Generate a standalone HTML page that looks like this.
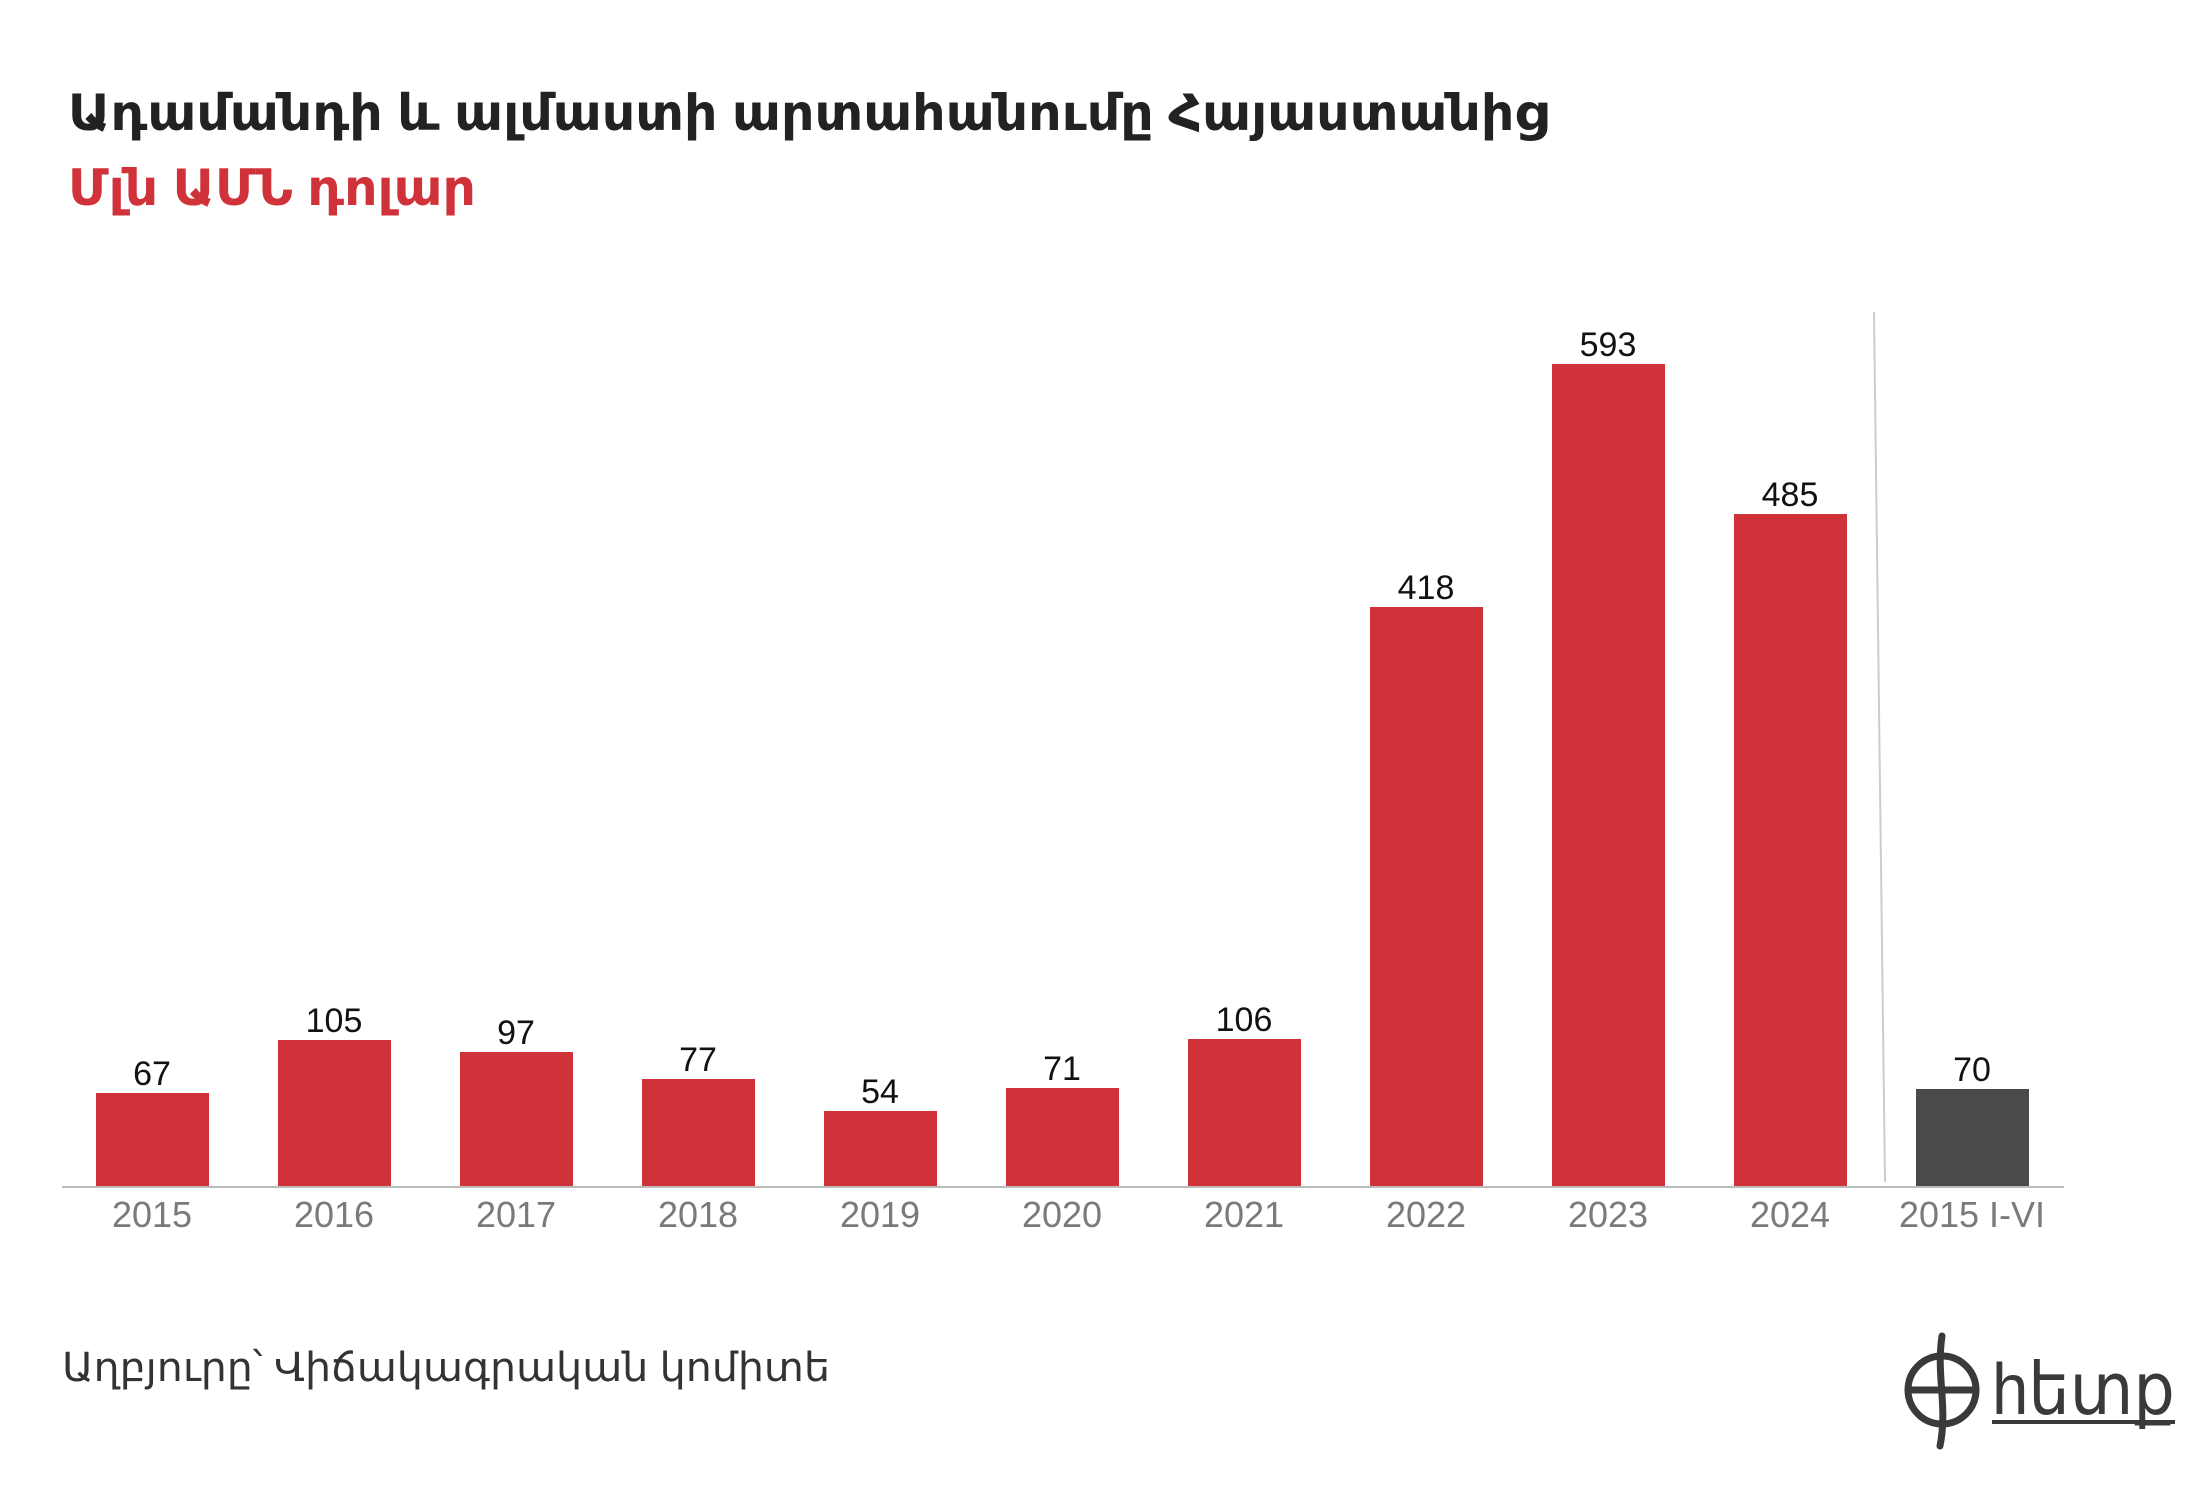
<!DOCTYPE html>
<html><head><meta charset="utf-8"><style>
html,body{margin:0;padding:0;background:#fff;}
svg{display:block;}
text{font-family:"Liberation Sans","DejaVu Sans",sans-serif;}
</style></head><body>
<svg width="2206" height="1510" viewBox="0 0 2206 1510" xmlns="http://www.w3.org/2000/svg">
<rect width="2206" height="1510" fill="#fff"/>
<text x="68" y="130" font-size="50" font-weight="bold" fill="#222" textLength="1480" lengthAdjust="spacingAndGlyphs">Ադամանդի և ալմաստի արտահանումը Հայաստանից</text>
<text x="68" y="205" font-size="50" font-weight="bold" fill="#d0323a" textLength="408" lengthAdjust="spacingAndGlyphs">Մլն ԱՄՆ դոլար</text>

<line x1="1874" y1="312" x2="1885" y2="1182" stroke="#ccc" stroke-width="2"/>
<g fill="#d0323a">
<rect x="96" y="1093" width="113" height="93"/>
<rect x="278" y="1040" width="113" height="146"/>
<rect x="460" y="1052" width="113" height="134"/>
<rect x="642" y="1079" width="113" height="107"/>
<rect x="824" y="1111" width="113" height="75"/>
<rect x="1006" y="1088" width="113" height="98"/>
<rect x="1188" y="1039" width="113" height="147"/>
<rect x="1370" y="607" width="113" height="579"/>
<rect x="1552" y="364" width="113" height="822"/>
<rect x="1734" y="514" width="113" height="672"/>
</g>
<rect x="1916" y="1089" width="113" height="97" fill="#4a4a4a"/>
<line x1="62" y1="1187" x2="2064" y2="1187" stroke="#bbb" stroke-width="2"/>

<g font-size="34" fill="#111" text-anchor="middle">
<text x="152" y="1085">67</text>
<text x="334" y="1032">105</text>
<text x="516" y="1044">97</text>
<text x="698" y="1071">77</text>
<text x="880" y="1103">54</text>
<text x="1062" y="1080">71</text>
<text x="1244" y="1031">106</text>
<text x="1426" y="599">418</text>
<text x="1608" y="356">593</text>
<text x="1790" y="506">485</text>
<text x="1972" y="1081">70</text>
</g>
<g font-size="36" fill="#7a7a7a" text-anchor="middle">
<text x="152" y="1227">2015</text>
<text x="334" y="1227">2016</text>
<text x="516" y="1227">2017</text>
<text x="698" y="1227">2018</text>
<text x="880" y="1227">2019</text>
<text x="1062" y="1227">2020</text>
<text x="1244" y="1227">2021</text>
<text x="1426" y="1227">2022</text>
<text x="1608" y="1227">2023</text>
<text x="1790" y="1227">2024</text>
<text x="1972" y="1227">2015 I-VI</text>
</g>
<text x="62" y="1381" font-size="40" fill="#333" textLength="768" lengthAdjust="spacingAndGlyphs">Աղբյուրը՝ Վիճակագրական կոմիտե</text>

<g stroke="#3a3a3a" fill="none" stroke-width="7" stroke-linecap="round">
<circle cx="1942" cy="1390" r="34"/>
<path d="M1942 1336 C1936 1376 1948 1406 1940 1446"/>
<path d="M1908 1390 H1976"/>
</g>
<text x="1992" y="1414" font-size="72" fill="#3a3a3a" textLength="183" lengthAdjust="spacingAndGlyphs">hետք</text>
<rect x="1992" y="1420" width="183" height="4" fill="#3a3a3a"/>
</svg>
</body></html>
